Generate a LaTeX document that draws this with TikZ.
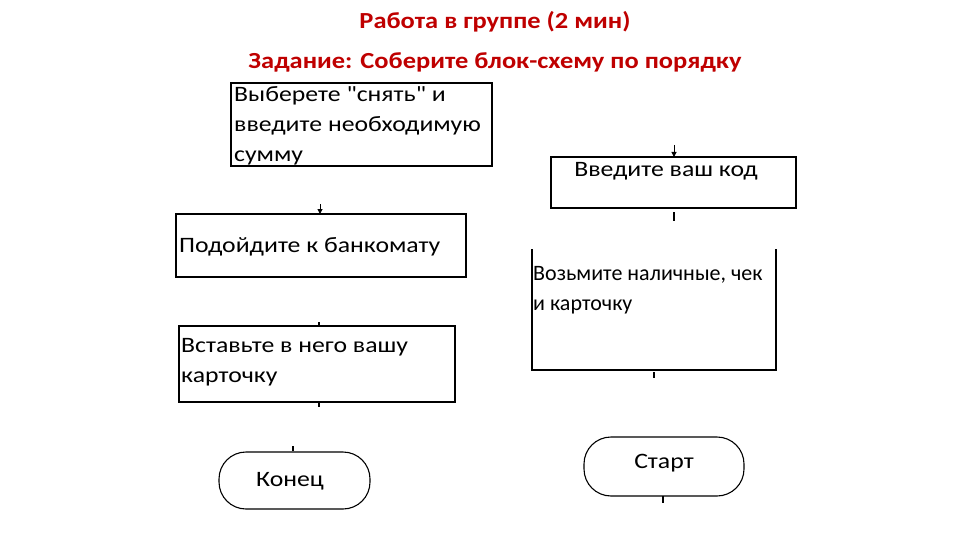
\documentclass[tikz,border=0pt]{standalone}
\usepackage{fontspec}
\setmainfont{Carlito}
\newfontfamily\qf{Carlito}
\usetikzlibrary{arrows.meta}
\begin{document}
\begin{tikzpicture}[x=1pt,y=-1pt,
  box/.style={draw,line width=1.3pt},
  txt/.style={font=\fontsize{22}{30}\selectfont,align=left,anchor=north west,inner sep=0pt,xscale=1.17},
  lab/.style={font=\fontsize{22}{26}\selectfont,xscale=1.17},
  ttl/.style={font=\bfseries\fontsize{23}{26}\selectfont,text=red!75!black,xscale=1.15},
  term/.style={draw,line width=1.1pt,rounded corners=27pt},
  stub/.style={line width=1.2pt},
  tip/.style={-{Triangle[length=5pt,width=5pt]},line width=1pt}]
\useasboundingbox (0,0) rectangle (960,540);
\node[ttl] (t1) at (495,22) {Работа в группе (2 мин)};
\node[ttl] (t2) at (495,62) {Задание: Соберите блок-схему по порядку};
% box 1
\draw[box] (231,83) rectangle (492,166);
\node[txt] (b1) at (234,86) {Выберете {\qf"}снять{\qf"} и\\введите необходимую\\сумму};
% box 2
\draw[box] (176,214) rectangle (466,277);
\node[txt] (b2) at (179,237) {Подойдите к банкомату};
\coordinate (a2) at (320,204); \coordinate (a2e) at (320,214);
\draw[tip] (a2) -- (a2e);
% box 3
\draw[box] (179,326) rectangle (455,402);
\node[txt] (b3) at (181,338) {Вставьте в него вашу\\карточку};
\coordinate (s3a) at (319,322); \coordinate (s3b) at (319,326);
\draw[stub] (s3a) -- (s3b);
\coordinate (s3c) at (319,402); \coordinate (s3d) at (319,407);
\draw[stub] (s3c) -- (s3d);
% Конец
\draw[term] (219,452) rectangle (370,509);
\node[lab] (k) at (290,481) {Конец};
\coordinate (s4a) at (293,446); \coordinate (s4b) at (293,451);
\draw[stub] (s4a) -- (s4b);
% Введите ваш код
\draw[box] (551,157) rectangle (796,208);
\node[lab] (c) at (666,171) {Введите ваш код};
\coordinate (a5) at (674,145); \coordinate (a5e) at (674,157);
\draw[tip] (a5) -- (a5e);
\coordinate (s5a) at (674,212); \coordinate (s5b) at (674,221);
\draw[stub] (s5a) -- (s5b);
% Возьмите
\draw[line width=1.3pt] (532,249) -- (532,370) -- (776,370) -- (776,249);
\node[txt,xscale=0.855] (v) at (533,266) {Возьмите наличные, чек\\и карточку};
\coordinate (s6a) at (654,372); \coordinate (s6b) at (654,378);
\draw[stub] (s6a) -- (s6b);
% Старт
\draw[term] (584,437) rectangle (744,496);
\node[lab] (st) at (664,463) {Старт};
\coordinate (s7a) at (663,496); \coordinate (s7b) at (663,503);
\draw[stub] (s7a) -- (s7b);
\end{tikzpicture}
\end{document}
